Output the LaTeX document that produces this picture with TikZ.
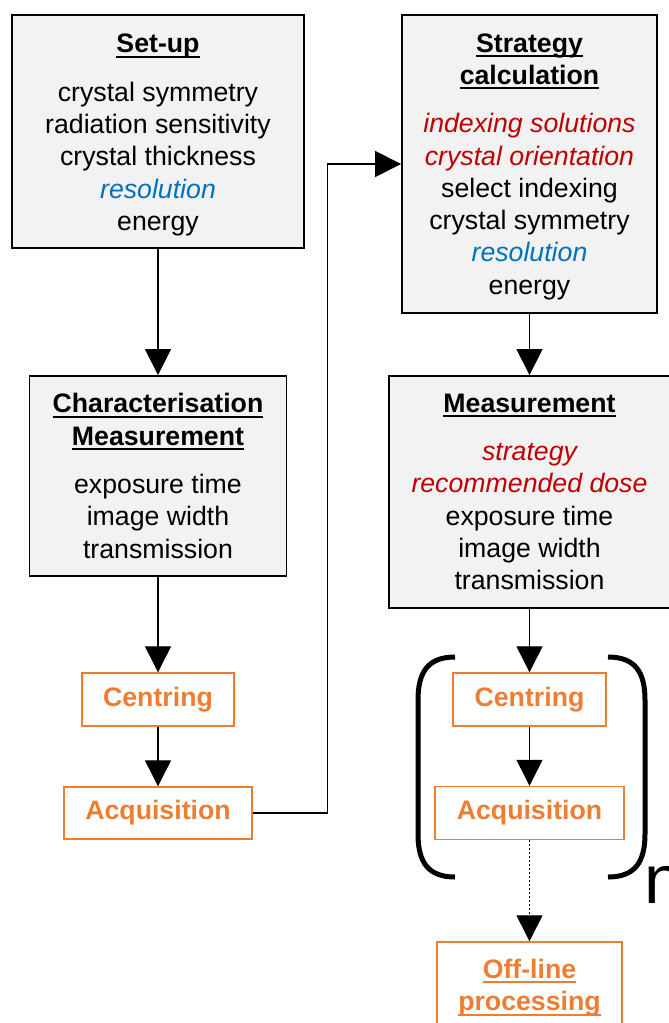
\documentclass[tikz,border=0pt]{standalone}
\usepackage{fontspec}
\setmainfont{Liberation Sans}
\usetikzlibrary{arrows.meta}

\definecolor{boxgrey}{HTML}{F2F2F2}
\definecolor{stepred}{HTML}{C00000}
\definecolor{stepblue}{HTML}{0070C0}
\definecolor{steporange}{HTML}{ED7D31}

% bold heading with an underline at a fixed distance below the baseline
\newsavebox\hdrbox
\newcommand{\hdr}[1]{\sbox\hdrbox{\bfseries #1}\rlap{\rule[-5pt]{\wd\hdrbox}{2pt}}\usebox\hdrbox}
\newcommand{\red}[1]{{\color{stepred}\itshape #1}}
\newcommand{\blue}[1]{{\color{stepblue}\itshape #1}}

\begin{document}
\begin{tikzpicture}[x=1pt, y=-1pt]
        \tikzstyle{every node}=[inner sep=0pt, align=center, font=\fontsize{26.7}{32.3}\selectfont]
        \tikzstyle{infobox}=[draw=black, line width=1.8pt, fill=boxgrey]
        \tikzstyle{actbox}=[draw=steporange, line width=1.4pt, text=steporange, font=\fontsize{26.7}{32.3}\selectfont\bfseries]
        \tikzstyle{flow}=[line width=1.2pt, -{Triangle[width=26pt, length=26pt]}]
        \tikzstyle{bracket}=[line width=5pt]
        \useasboundingbox (0,0) rectangle (669,1023);
        % left column
        \node [infobox, minimum width=292pt, minimum height=233pt] (setup) at (158,131.5) {\rule{0pt}{26pt}\hdr{Set-up}\\[16pt] crystal symmetry\\ radiation sensitivity\\ crystal thickness\\ \blue{resolution}\\ energy};
        \node [infobox, minimum width=257pt, minimum height=200pt] (charac) at (158,476) {\hdr{Characterisation}\\ \hdr{Measurement}\\[16pt] exposure time\\ image width\\ transmission};
        \node [actbox, minimum width=152pt, minimum height=53pt] (centL) at (158,699.5) {Centring};
        \node [actbox, minimum width=188pt, minimum height=52pt] (acqL) at (158,813) {Acquisition};
        % right column
        \node [infobox, minimum width=255pt, minimum height=298pt] (strat) at (529.5,164) {\rule{0pt}{24pt}\hdr{Strategy}\\ \hdr{calculation}\\[16pt] \red{indexing solutions}\\ \red{crystal orientation}\\ select indexing\\ crystal symmetry\\ \blue{resolution}\\ energy};
        \node [infobox, minimum width=281pt, minimum height=232pt] (meas) at (529.5,492) {\hdr{Measurement}\\[16pt] \red{strategy}\\ \red{recommended dose}\\ exposure time\\ image width\\ transmission};
        \node [actbox, minimum width=153pt, minimum height=53pt] (centR) at (529.5,699.5) {Centring};
        \node [actbox, minimum width=189pt, minimum height=53pt] (acqR) at (529.5,813) {Acquisition};
        \node [actbox, minimum width=185pt, minimum height=91pt] (offline) at (529.5,987.5) {\hdr{Off-line}\\ \hdr{processing}};
        % repeat brackets
        \draw [bracket] (455,657) .. controls (428,657) and (418,672) .. (418,700) -- (418,834) .. controls (418,862) and (428,877) .. (455,877);
        \draw [bracket] (608,657) .. controls (635,657) and (645,672) .. (645,700) -- (645,834) .. controls (645,862) and (635,877) .. (608,877);
        \node [anchor=base west, font=\fontsize{69}{69}\selectfont] (rep) at (644,903) {n};
        % connectors
        \draw [flow] (setup) -- (charac);
        \draw [flow] (charac) -- (centL);
        \draw [flow] (centL) -- (acqL);
        \draw [flow] (acqL.east) -- ++(75,0) |- (strat.west);
        \draw [flow] (strat) -- (meas);
        \draw [flow] (meas) -- (centR);
        \draw [flow] (centR) -- (acqR);
        \draw [flow, dash pattern=on 2pt off 2pt] (acqR) -- (offline);
\end{tikzpicture}
\end{document}
